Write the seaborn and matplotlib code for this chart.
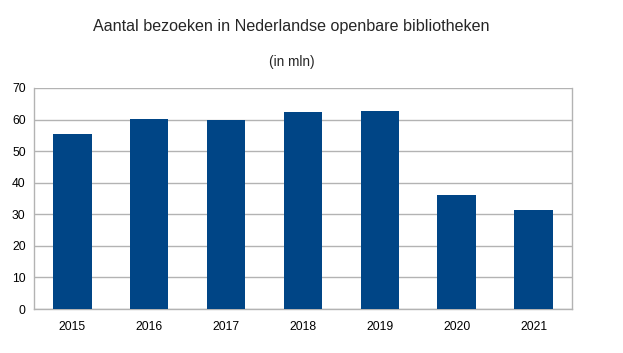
import numpy as np
import pandas as pd
import matplotlib
matplotlib.use("Agg")
import matplotlib.pyplot as plt
import seaborn as sns

# Visits to Dutch public libraries (millions)
years = ["2015", "2016", "2017", "2018", "2019", "2020", "2021"]
visits = [55.4, 60.1, 59.8, 62.3, 62.7, 36.1, 31.3]

title = "Aantal bezoeken in Nederlandse openbare bibliotheken"
subtitle = "(in mln)"

bar_color = "#004586"
grid_color = "#b3b3b3"

sns.set_style("white")
plt.rcParams["font.family"] = ["Liberation Sans", "DejaVu Sans"]

df = pd.DataFrame({"year": years, "visits": visits})

fig = plt.figure(figsize=(6.23, 3.53), dpi=100)
ax = fig.add_axes([34 / 623, 1 - 309 / 353, (572 - 34) / 623, (309 - 88) / 353])

sns.barplot(data=df, x="year", y="visits", color=bar_color, width=0.5,
            saturation=1, linewidth=0, ax=ax, zorder=3)

ax.set_ylim(0, 70)
ax.set_yticks(np.arange(0, 71, 10))
ax.set_xlim(-0.5, len(years) - 0.5)
ax.set_xticks(np.arange(-0.5, len(years), 1), minor=True)
ax.yaxis.grid(True, color=grid_color, linewidth=1, zorder=0)
ax.set_axisbelow(True)

for side in ["left", "right", "bottom"]:
    ax.spines[side].set_color(grid_color)
    ax.spines[side].set_linewidth(1)
ax.spines["top"].set_visible(False)

ax.tick_params(axis="x", which="major", length=0, labelsize=8.7, pad=9, colors="black")
ax.tick_params(axis="x", which="minor", length=5, width=1, color=grid_color)
ax.tick_params(axis="y", length=4, width=1, color=grid_color, labelsize=8.7, pad=2)
ax.tick_params(axis="y", labelcolor="black")
ax.set_xlabel("")
ax.set_ylabel("")

fig.text(291 / 623, 1 - 27 / 353, title, ha="center", va="center", fontsize=11.6)
fig.text(292 / 623, 1 - 62 / 353, subtitle, ha="center", va="center", fontsize=9.8)

fig.savefig("out.png", dpi=100)
plt.close(fig)
